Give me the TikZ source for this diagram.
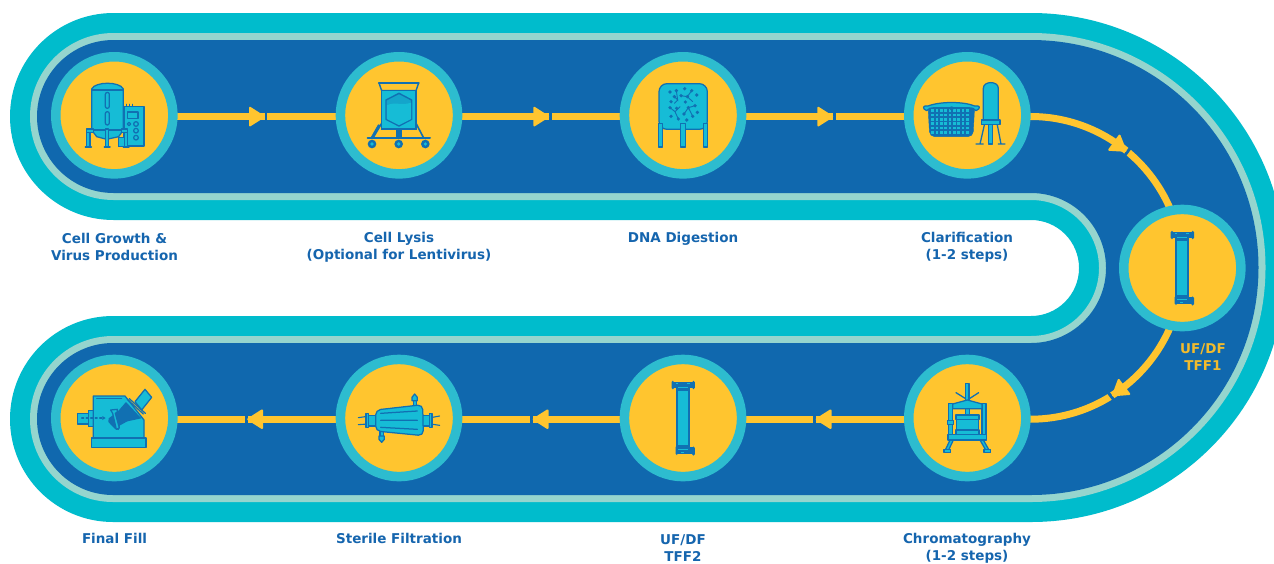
\documentclass[tikz,border=0pt]{standalone}
\usepackage{fontspec}
\setmainfont{DejaVu Sans}
\usetikzlibrary{calc}
\pgfdeclarelayer{back}
\pgfsetlayers{back,main}
\definecolor{navy}{HTML}{1068AE}
\definecolor{band}{HTML}{00BCCC}
\definecolor{lightband}{HTML}{95D5CE}
\definecolor{ring}{HTML}{2DBCCF}
\definecolor{sun}{HTML}{FFC52F}
\definecolor{icf}{HTML}{16BCD6}
\definecolor{icl}{HTML}{1170B2}
\definecolor{txt}{HTML}{1565AE}
\tikzset{
  stage/.style={circle,draw=ring,fill=sun,line width=9.5pt,minimum size=117.1pt,inner sep=0pt,outer sep=0pt},
  flow/.style={draw=sun,line width=7pt},
  lab/.style={font=\bfseries\fontsize{13.5}{17}\selectfont,text=txt,align=center,inner sep=0pt},
  ic/.style={draw=icl,fill=icf,line width=1.25pt,line join=round},
  icd/.style={draw=icl,line width=1.25pt,line cap=round},
  zm/.style={shift={(#1)},scale=0.33333}
}
% S-shaped band; radii: upper lobe, slot, lower lobe, big arc
\newcommand{\sband}[5]{\fill[#1] (113.5,116.5-#2) arc[start angle=270,end angle=90,radius=#2]
  -- (1031,268-#3) arc[start angle=270,end angle=450,radius=#3]
  -- (113,419-#4) arc[start angle=270,end angle=90,radius=#4]
  -- (1031,419+#4) arc[start angle=90,end angle=-90,radius=#5] -- cycle;}
% arrow head: tip position, direction
\newcommand{\ahead}[3]{\begin{scope}[shift={(#1,#2)},rotate=#3]
  \fill[navy] (-.5,-5) rectangle (2.4,5);
  \fill[sun,draw=sun,line width=2pt,line join=round] (-15,-8.8) -- (-1.2,0) -- (-15,8.8) -- cycle;
\end{scope}}
% TFF cartridge, local coordinates in 1/3 px
\newcommand{\tff}[1]{\begin{scope}[zm={#1}]
  \fill[icl] (224,112) rectangle (268,292);
  \fill[icf] (232,122) rectangle (260,285);
  \fill[icl,rounded corners=1.5pt] (212,92) rectangle (220,118);
  \fill[icl,rounded corners=1.5pt] (274,92) rectangle (282,118);
  \fill[icl] (218,96) rectangle (276,114);
  \fill[icf] (224,99) rectangle (232,103); \fill[icf] (258,99) rectangle (268,103);
  \fill[icf] (232,110) rectangle (260,112);
  \fill[icl,rounded corners=1.5pt] (224,287) rectangle (232,315);
  \fill[icl,rounded corners=1.5pt] (274,289) rectangle (282,317);
  \fill[icl] (226,292) rectangle (276,312);
  \fill[icf] (232,298) rectangle (262,301);
  \fill[icf] (240,306) rectangle (250,309);
\end{scope}}
\begin{document}
\begin{tikzpicture}[x=1pt,y=1pt,yscale=-1]
\useasboundingbox (0,0) rectangle (1274,563);
\begin{pgfonlayer}{back}
\clip (0,0) rectangle (1274,563);
\fill[white] (0,0) rectangle (1274,563);
\sband{band}{103.5}{48}{103}{254.5}
\sband{lightband}{83.5}{68}{83}{234.5}
\sband{navy}{76.5}{75}{76}{227.5}
\end{pgfonlayer}

% stages
\node[stage] (n1) at (114.3,115.3) {};
\node[stage] (n2) at (399,115.3) {};
\node[stage] (n3) at (683,115.3) {};
\node[stage] (n4) at (967.3,115.3) {};
\node[stage] (n5) at (1182.3,268) {};
\node[stage] (n6) at (967.3,418) {};
\node[stage] (n7) at (683,418) {};
\node[stage] (n8) at (399,418) {};
\node[stage] (n9) at (114.3,418) {};

% connectors
\begin{pgfonlayer}{back}
\draw[flow] ([yshift=1.2pt]n1.east) -- ([yshift=1.2pt]n2.west);
\draw[flow] ([yshift=1.2pt]n2.east) -- ([yshift=1.2pt]n3.west);
\draw[flow] ([yshift=1.2pt]n3.east) -- ([yshift=1.2pt]n4.west);
\draw[flow] ([yshift=1.2pt]n4.east) -- +(4.75,0) .. controls +(83.4,0) and +(0,-83.4) .. (n5.center);
\draw[flow] (n5.center) .. controls +(0,83.4) and +(83.4,0) .. ([shift={(4.75,1.2)}]n6.east) -- ([yshift=1.2pt]n6.east);
\draw[flow] ([yshift=1.2pt]n6.west) -- ([yshift=1.2pt]n7.east);
\draw[flow] ([yshift=1.2pt]n7.west) -- ([yshift=1.2pt]n8.east);
\draw[flow] ([yshift=1.2pt]n8.west) -- ([yshift=1.2pt]n9.east);
\ahead{265}{116.6}{0}
\ahead{549.3}{116.6}{0}
\ahead{833.3}{116.6}{0}
\ahead{1126.5}{151.5}{36}
\ahead{1112}{396}{143}
\ahead{815.5}{419.2}{180}
\ahead{532.5}{419.2}{180}
\ahead{247}{419.2}{180}
\end{pgfonlayer}

% icon 1 : bioreactor and control box
\begin{scope}[zm={40,40}]
\draw[ic] (252,200) rectangle (312,318);
\fill[icf,draw=icl,line width=1pt] (235,292) rectangle (256,318);
\draw[ic] (262,216) rectangle (294,235);
\draw[ic] (288,252) circle (7); \draw[ic] (288,272) circle (7); \draw[ic] (288,293) circle (7);
\draw[ic] (267,252) circle (5);
\draw[icd] (260,198) -- (260,193) (268,198) -- (268,193) (277,198) -- (277,193);
\draw[ic] (155,270) -- (155,147) .. controls (165,124) and (240,124) .. (250,147) -- (250,270) -- (236,290) -- (200,298) -- (170,290) -- cycle;
\draw[icd] (155,150) -- (250,150);
\draw[icd] (155,270) -- (250,270);
\draw[ic,rounded corners=2pt] (196,157) rectangle (208,205);
\draw[ic,rounded corners=2pt] (196,215) rectangle (208,255);
\draw[ic] (140,267) rectangle (160,277);
\draw[ic] (140,277) rectangle (150,320);
\draw[ic] (197,267) rectangle (206,320);
\draw[ic] (244,267) rectangle (263,277);
\draw[ic] (253,277) rectangle (262,320);
\draw[icd,line width=1.5pt] (136,321) -- (154,321) (193,321) -- (210,321) (250,321) -- (267,321);
\end{scope}

% icon 2 : lysis vessel on a cart
\begin{scope}[zm={330,40}]
\draw[icd,line width=1.6pt] (155,250) -- (130,292) (146,255) -- (125,292) (258,250) -- (280,292);
\fill[icl] (198,265) rectangle (216,293);
\draw[icd,line width=2pt] (113,294) -- (300,294);
\foreach \x in {126,206,286} {\fill[icl] (\x,312) circle (13); \fill[icf] (\x,312) circle (5.5);}
\draw[draw=icl,fill=sun,line width=1.4pt,line join=round] (147,129) -- (266,129) -- (258,152) -- (155,152) -- cycle;
\draw[draw=icl,fill=icf,line width=1.6pt] (155,152) rectangle (258,267);
\draw[icd,line width=2.2pt] (147,129) -- (266,129);
\fill[icf!70!icl,draw=icl,line width=1.4pt,line join=round] (207,160) -- (245,180) -- (245,238) -- (207,258) -- (168,238) -- (168,180) -- cycle;
\fill[icf] (171,196) .. controls (195,184) and (215,198) .. (243,188) -- (243,237) -- (207,255) -- (171,237) -- cycle;
\end{scope}

% icon 3 : digestion vessel
\begin{scope}[zm={610,40}]
\draw[ic,rounded corners=8pt] (147,131) rectangle (292,268);
\draw[ic] (146,250) rectangle (158,321);
\draw[ic] (212,250) rectangle (226,321);
\draw[ic] (280,250) rectangle (293,321);
\foreach \x/\y in {180/156,199/152,224/146,245/152,260/165,183/185,226/186,180/203,262/217,183/229,230/240,205/237,248/229,193/170,213/167,232/170,255/197,235/203,222/222,200/205}
  {\fill[icl] (\x,\y) circle (5.5);}
\draw[icd,line width=.9pt] (199,152) -- (203,180) -- (193,170) (213,167) -- (232,170) -- (245,152) (232,170) -- (248,185)
  (180,203) -- (195,215) -- (205,237) (195,215) -- (210,200) (222,222) -- (235,203) -- (255,197) (235,203) -- (248,229) (203,180) -- (193,190);
\end{scope}

% icon 4 : depth filter and column
\begin{scope}[zm={900,40}]
\draw[draw=icl,fill=icl,rounded corners=5pt] (84,196) -- (224,196) -- (219,290) -- (89,290) -- cycle;
\foreach \x in {98,111,...,202} \foreach \y in {212,225,...,277}
  {\fill[icf] (\x-4,\y-4) rectangle (\x+4,\y+4);}
\draw[draw=icl,fill=icf,line width=1.25pt,line join=round] (80,212) .. controls (64,206) and (70,194) .. (84,198) .. controls (120,184) and (190,184) .. (224,198) .. controls (240,194) and (244,206) .. (228,212) .. controls (224,204) and (216,204) .. (200,203) -- (108,203) .. controls (92,204) and (84,204) .. (80,212) -- cycle;
\fill[icl] (155,205) circle (6);
\draw[ic] (250,240) -- (250,145) .. controls (250,122) and (295,122) .. (295,145) -- (295,240) -- cycle;
\draw[ic] (244,240) rectangle (300,254);
\draw[ic] (265,254) rectangle (278,312);
\draw[icd,line width=1.3pt] (253,255) -- (240,312) (228,312) -- (250,312) (292,255) -- (303,312) (295,312) -- (315,312);
\end{scope}

% icons 5 and 7 : TFF cartridges
\tff{1100,200}
\tff{600.83,350}

% icon 6 : press
\begin{scope}[zm={900,350}]
\draw[icd,line width=1.3pt] (168,128) -- (200,148) (236,128) -- (205,148);
\draw[ic] (197,100) rectangle (207,155);
\draw[ic] (197,175) rectangle (208,196);
\draw[ic] (150,270) -- (160,270) -- (146,300) -- (136,300) -- cycle;
\draw[ic] (240,270) -- (250,270) -- (267,300) -- (257,300) -- cycle;
\draw[ic] (132,298) rectangle (152,308);
\draw[ic] (252,298) rectangle (272,308);
\draw[ic] (146,160) rectangle (158,255);
\draw[ic] (246,160) rectangle (258,255);
\draw[ic] (143,212) rectangle (160,224);
\draw[ic] (158,162) -- (202,150) -- (246,162) -- (246,176) -- (158,176) -- cycle;
\draw[ic] (170,208) rectangle (235,240);
\draw[ic] (168,195) rectangle (237,208);
\draw[ic] (168,240) rectangle (237,254);
\draw[ic] (144,254) rectangle (260,270);
\end{scope}

% icon 8 : sterile filter
\begin{scope}[zm={330,350}]
\draw[icd,line width=1.1pt] (85,203) -- (112,199) (85,224) -- (112,222) (302,203) -- (329,198) (302,222) -- (329,226);
\draw[ic] (112,196) rectangle (140,228);
\draw[ic] (108,191) rectangle (116,232);
\draw[ic] (278,196) rectangle (304,228);
\draw[ic] (298,191) rectangle (306,232);
\draw[ic] (250,150) rectangle (260,170);
\draw[ic] (246,142) -- (254,132) -- (262,142) -- (262,152) -- (246,152) -- cycle;
\draw[ic] (150,245) rectangle (160,262);
\draw[ic] (147,258) -- (163,258) -- (163,268) -- (155,277) -- (147,268) -- cycle;
\draw[ic,rounded corners=5pt] (137,180) -- (278,164) -- (280,257) -- (137,243) -- cycle;
\draw[icd] (152,190) -- (262,183) (152,211) -- (262,211) (152,232) -- (262,238);
\end{scope}

% icon 9 : filling machine
\begin{scope}[zm={40,350}]
\draw[ic] (285,155) -- (315,118) -- (335,142) -- (305,180) -- cycle;
\draw[ic] (113,191) rectangle (146,222);
\draw[ic] (145,181) rectangle (160,230);
\draw[ic] (160,138) -- (255,138) -- (312,210) -- (312,264) -- (160,264) -- cycle;
\draw[icd] (170,146) -- (245,146);
\draw[ic] (155,264) rectangle (318,292);
\draw[icd] (262,148) -- (310,192);
\draw[icd] (268,146) -- (316,190);
\fill[icl] (258,156) -- (304,205) -- (262,214) -- (240,226) -- (236,240) -- (224,236) -- (205,216) -- (206,205) -- (232,186) -- cycle;
\draw[ic] (212,180) -- (232,178) -- (232,186) -- (226,190) -- (238,234) -- (229,238) -- (218,190) -- cycle;
\draw[icd,dash pattern=on 2pt off 2.5pt] (125,204) -- (187,204);
\fill[icl] (187,198) -- (197,204) -- (187,210) -- cycle;
\end{scope}

% labels
\node[lab] (t1) at (114.5,247) {Cell Growth \&\\Virus Production};
\node[lab] (t2) at (399,247) {Cell Lysis\\(Optional for Lentivirus)};
\node[lab] (t3) at (683,238.5) {DNA Digestion};
\node[lab] (t4) at (967,247) {Clarification\\(1-2 steps)};
\node[lab,text=sun!95!black] (t5) at (1203,357) {UF/DF\\TFF1};
\node[lab] (t6) at (967,548) {Chromatography\\(1-2 steps)};
\node[lab] (t7) at (683,548) {UF/DF\\TFF2};
\node[lab] (t8) at (399,538) {Sterile Filtration};
\node[lab] (t9) at (114.5,538) {Final Fill};
\end{tikzpicture}
\end{document}
